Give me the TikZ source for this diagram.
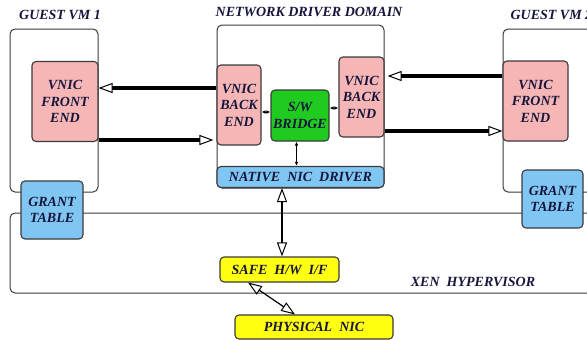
\documentclass[tikz,border=0pt]{standalone}
\usepackage{fontspec}
\setmainfont{Liberation Serif}
\usetikzlibrary{arrows.meta}
\definecolor{pinkf}{HTML}{F6B6B6}
\definecolor{greenf}{HTML}{1FCB1F}
\definecolor{bluef}{HTML}{80C6F2}
\definecolor{yellowf}{HTML}{FFFF10}
\definecolor{navy}{HTML}{16163C}
\definecolor{edge}{HTML}{3A3A3A}
\begin{document}
\begin{tikzpicture}[x=1pt,y=-1pt,
  txt/.style={font=\fontsize{14}{16.5}\selectfont\bfseries\itshape, text=navy, align=center},
  box/.style={txt, draw=edge, line width=1.1pt, rounded corners=4pt, inner sep=0pt},
  pinkbox/.style={box, fill=pinkf},
  greenbox/.style={box, fill=greenf},
  bluebox/.style={box, fill=bluef},
  yellowbox/.style={box, fill=yellowf},
  container/.style={draw=edge, line width=1pt, rounded corners=5pt},
  bigarrow/.style={line width=3.4pt, -{Triangle[open, length=14pt, width=10pt, line width=1pt]}},
  midarrow/.style={line width=1.2pt, {Triangle[open, length=14pt, width=10pt, line width=1pt]}-{Triangle[open, length=14pt, width=10pt, line width=1pt]}},
  smallarrow/.style={line width=1pt, {Latex[length=4pt,width=3.5pt]}-{Latex[length=4pt,width=3.5pt]}}
]
\useasboundingbox (0,0) rectangle (587,340);
\clip (0,0) rectangle (587,340);
\fill[white] (0,0) rectangle (587,340);

% containers
\draw[container] (10,29) rectangle (98,192);
\draw[container] (217,25) rectangle (384,188);
\draw[container] (503,29) rectangle (640,192);
\draw[container] (640,213) -- (10,213) -- (10,293) -- (640,293);

% labels
\node[txt] (lgvm1) at (60,15) {GUEST VM 1};
\node[txt] (lndd) at (309,12) {NETWORK DRIVER DOMAIN};
\node[txt, anchor=west] (lgvm2) at (507,15) {GUEST VM 2};
\node[txt] (lxen) at (473,282) {XEN\ \ HYPERVISOR};

% boxes
\node[pinkbox, minimum width=66pt, minimum height=80pt] (fe1) at (65,101.5) {VNIC\\FRONT\\END};
\node[pinkbox, minimum width=44pt, minimum height=80pt] (be1) at (239,105) {VNIC\\BACK\\END};
\node[greenbox, minimum width=58pt, minimum height=51pt] (br) at (300,115.5) {S/W\\BRIDGE};
\node[pinkbox, minimum width=45pt, minimum height=80pt] (be2) at (361.5,97) {VNIC\\BACK\\END};
\node[bluebox, minimum width=167pt, minimum height=21pt] (nic) at (300.5,177) {NATIVE\ \ NIC\ \ DRIVER};
\node[pinkbox, minimum width=65pt, minimum height=80pt] (fe2) at (535.5,101) {VNIC\\FRONT\\END};
\node[bluebox, minimum width=62pt, minimum height=58pt] (gt1) at (52,210) {GRANT\\TABLE};
\node[bluebox, minimum width=61pt, minimum height=58pt] (gt2) at (552.5,199) {GRANT\\TABLE};
\node[yellowbox, minimum width=119pt, minimum height=25pt] (safe) at (279.5,269.5) {SAFE\ \ H/W\ \ I/F};
\node[yellowbox, minimum width=158pt, minimum height=24pt] (phys) at (314,327) {PHYSICAL\ \ NIC};

% big arrows
\coordinate (a1) at ([yshift=17pt]be1.west);
\draw[bigarrow] (a1) -- (a1 -| fe1.east);
\coordinate (a2) at ([yshift=-38.5pt]fe1.east);
\draw[bigarrow] (a2) -- ([xshift=-3pt]a2 -| be1.west);
\coordinate (a3) at ([yshift=25pt]fe2.west);
\draw[bigarrow] (a3) -- ([xshift=3pt]a3 -| be2.east);
\coordinate (a4) at ([yshift=-34pt]be2.east);
\draw[bigarrow] (a4) -- (a4 -| fe2.west);

% small arrows
\coordinate (s1) at ([yshift=-7pt]be1.east);
\draw[smallarrow] (s1) -- (s1 -| br.west);
\coordinate (s2) at ([yshift=7.5pt]br.east);
\draw[smallarrow] (s2) -- (s2 -| be2.west);
\coordinate (s3) at ([xshift=-3.5pt]br.south);
\draw[smallarrow] (s3) -- (s3 |- nic.north);

% medium arrows
\coordinate (v1) at ([xshift=-18.5pt]nic.south);
\draw[midarrow] (v1) -- (v1 |- safe.north);
\coordinate (d1) at ([xshift=-31.5pt]safe.south);
\coordinate (d2) at ([xshift=-19pt]phys.north);
\draw[midarrow] (d1) -- (d2);
\end{tikzpicture}
\end{document}
